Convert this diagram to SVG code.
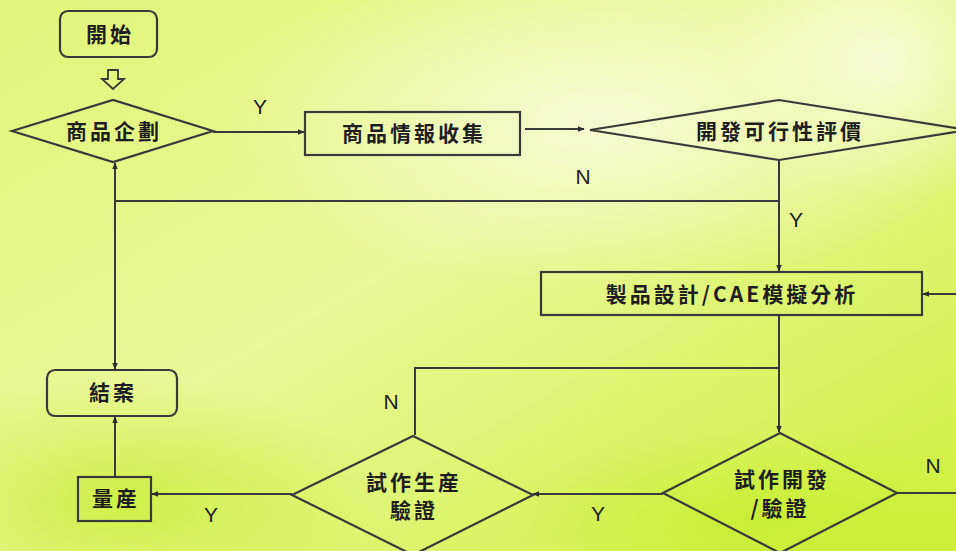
<svg xmlns="http://www.w3.org/2000/svg" width="956" height="551" viewBox="0 0 956 551">
<defs>
<linearGradient id="bg" x1="0" y1="0" x2="1" y2="1">
<stop offset="0" stop-color="#e2f57a"/>
<stop offset="0.45" stop-color="#eaf79a"/>
<stop offset="1" stop-color="#cdf03a"/>
</linearGradient>
<radialGradient id="hl1" cx="0.5" cy="0.5" r="0.5">
<stop offset="0" stop-color="#f8fbd8" stop-opacity="0.9"/>
<stop offset="1" stop-color="#f8fbd8" stop-opacity="0"/>
</radialGradient>
<radialGradient id="hl2" cx="0.5" cy="0.5" r="0.5">
<stop offset="0" stop-color="#c4ec2a" stop-opacity="0.7"/>
<stop offset="1" stop-color="#c4ec2a" stop-opacity="0"/>
</radialGradient>
<marker id="ah" viewBox="0 0 10 10" refX="9" refY="5" markerWidth="7" markerHeight="7" markerUnits="userSpaceOnUse" orient="auto">
<path d="M0,1 L10,5 L0,9 Z" fill="#2b2b2b"/>
</marker>
<style>
.shape{fill:none;stroke:#3a3a3a;stroke-width:2.2}
.ln{fill:none;stroke:#3a3a3a;stroke-width:2}
.arr{marker-end:url(#ah)}
.t{font-family:"Noto Sans CJK TC","Noto Sans CJK SC",sans-serif;font-weight:700;font-size:21px;fill:#1e1e1e;text-anchor:middle;letter-spacing:3px}
.yn{font-family:"Liberation Sans",Arial,sans-serif;font-size:21px;fill:#222;text-anchor:middle}
</style>
</defs>
<rect width="956" height="551" fill="url(#bg)"/>
<ellipse cx="600" cy="120" rx="380" ry="170" fill="url(#hl1)"/>
<ellipse cx="880" cy="60" rx="160" ry="140" fill="url(#hl1)"/>
<ellipse cx="120" cy="500" rx="260" ry="120" fill="url(#hl2)"/>
<ellipse cx="760" cy="520" rx="260" ry="90" fill="url(#hl2)"/>

<g id="connectors">
<path class="ln arr" d="M213,132 H304"/>
<path class="ln arr" d="M525,129 H584"/>
<path class="ln arr" d="M779,160 V271"/>
<path class="ln" d="M779,201 H115"/>
<path class="ln arr" d="M115,201 V163"/>
<path class="ln arr" d="M115,201 V369"/>
<path class="ln arr" d="M956,294 H923"/>
<path class="ln arr" d="M779,315 V432"/>
<path class="ln" d="M779,368 H415 V435"/>
<path class="ln arr" d="M663,494 H533"/>
<path class="ln" d="M896,493 H956"/>
<path class="ln arr" d="M292,494 H152"/>
<path class="ln arr" d="M115,477 V417"/>
<text class="yn" x="260" y="114">Y</text>
<text class="yn" x="583" y="184">N</text>
<text class="yn" x="796" y="227">Y</text>
<text class="yn" x="391" y="409">N</text>
<text class="yn" x="598" y="521">Y</text>
<text class="yn" x="933" y="473">N</text>
<text class="yn" x="211" y="522">Y</text>
</g>

<g id="start">
<rect class="shape" x="60" y="11" width="97" height="46" rx="8"/>
<text class="t" x="110" y="42">開始</text>
<path d="M108,70 H118 V79 H124 L113,89 L102,79 H108 Z" fill="none" stroke="#3a3a3a" stroke-width="1.8"/>
</g>

<g id="plan">
<polygon class="shape" points="12,131 113,100 213,131 113,162"/>
<text class="t" x="114" y="139">商品企劃</text>
</g>

<g id="collect">
<rect class="shape" x="305" y="112" width="215" height="43"/>
<text class="t" x="414" y="141">商品情報收集</text>
</g>

<g id="feasibility">
<polygon class="shape" points="590,130 779,100 968,130 779,160"/>
<text class="t" x="780" y="139">開發可行性評價</text>
</g>

<g id="design">
<rect class="shape" x="541" y="272" width="381" height="43"/>
<text class="t" x="732" y="302">製品設計/CAE模擬分析</text>
</g>

<g id="trial-dev">
<polygon class="shape" points="663,493 780,433 897,493 780,553"/>
<text class="t" x="782" y="487">試作開發</text>
<text class="t" x="780" y="516">/驗證</text>
</g>

<g id="trial-prod">
<polygon class="shape" points="292,495 413,436 533,495 413,555"/>
<text class="t" x="414" y="490">試作生産</text>
<text class="t" x="414" y="518">驗證</text>
</g>

<g id="mass">
<rect class="shape" x="78" y="477" width="73" height="44"/>
<text class="t" x="116" y="506">量産</text>
</g>

<g id="close">
<rect class="shape" x="47" y="370" width="130" height="46" rx="8"/>
<text class="t" x="113" y="400">結案</text>
</g>
</svg>
